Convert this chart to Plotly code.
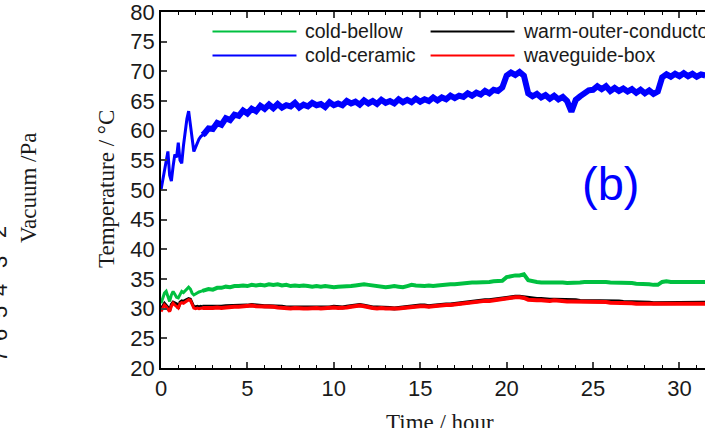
import numpy as np
import plotly.graph_objects as go

# ---- sample times (hours) ----
# fast sampling during warm-up, then every 15 minutes
t_early = [round(0.1 * i, 1) for i in range(25)]          # 0.0 .. 2.4
t_late = [2.5 + 0.25 * i for i in range(117)]               # 2.5 .. 31.5
time_h = t_early + t_late
n_early = len(t_early)

# ---- cold-ceramic (blue) ----
ceramic_early = [50.0, 51.5, 53.0, 55.0, 56.5, 52.5, 51.5, 54.0, 56.0, 55.5,
                 58.0, 55.0, 54.5, 57.5, 60.0, 62.0, 63.3, 61.0, 58.5, 56.5,
                 57.2, 58.0, 58.6, 59.0, 59.3]
ceramic_late = [
    59.5, 60.4, 60.3, 61.3, 61.0, 62.1, 61.8, 62.7,
    62.5, 63.4, 62.9, 63.7, 63.3, 64.2, 63.7, 64.4,
    63.8, 64.5, 63.9, 64.3, 64.1, 64.7, 63.9, 64.4,
    64.1, 64.7, 64.3, 64.5, 64.0, 64.8, 64.3, 64.6,
    64.3, 65.0, 64.6, 64.9, 64.4, 65.1, 64.6, 65.0,
    64.5, 65.2, 64.7, 65.0, 64.6, 65.3, 64.8, 65.2,
    64.8, 65.4, 64.9, 65.3, 65.0, 65.6, 65.1, 65.6,
    65.3, 65.9, 65.5, 65.9, 65.7, 66.3, 65.9, 66.4,
    66.1, 66.7, 66.3, 66.9, 66.7, 67.3, 69.3, 69.8,
    69.4, 69.9, 69.3, 66.3, 65.8, 66.2, 65.6, 66.0,
    65.4, 65.9, 65.3, 65.7, 65.0, 63.2, 65.2, 65.8,
    66.2, 66.8, 66.9, 67.5, 67.0, 67.5, 66.7, 67.2,
    66.7, 67.1, 66.6, 67.0, 66.4, 66.9, 66.3, 66.8,
    66.2, 66.6, 69.0, 69.5, 69.1, 69.6, 69.2, 69.7,
    69.2, 69.6, 69.1, 69.5, 69.3]

# ---- cold-bellow (green) ----
bellow_early = [30.9, 31.8, 32.6, 32.9, 32.0, 31.2, 32.3, 32.9, 32.4, 31.9,
                31.8, 32.5, 32.9, 32.7, 33.0, 33.3, 33.6, 33.3, 32.6, 32.3,
                32.5, 32.7, 32.8, 32.9, 33.0]
bellow_late = [
    33.1, 33.3, 33.2, 33.5, 33.5, 33.7, 33.6, 33.8,
    33.8, 33.9, 33.8, 34.0, 33.9, 34.0, 33.9, 34.1,
    34.0, 34.1, 33.9, 34.0, 33.8, 33.9, 33.8, 33.9,
    33.8, 33.7, 33.8, 33.7, 33.8, 33.7, 33.6, 33.7,
    33.7, 33.8, 33.8, 33.9, 34.0, 34.1, 34.0, 33.9,
    33.8, 33.7, 33.6, 33.7, 33.8, 33.7, 33.6, 33.8,
    34.0, 33.9, 33.8, 33.8, 33.9, 33.8, 33.9, 34.0,
    34.0, 34.1, 34.1, 34.2, 34.3, 34.3, 34.4, 34.4,
    34.4, 34.5, 34.5, 34.6, 34.6, 34.7, 35.3, 35.5,
    35.6, 35.6, 35.8, 34.8, 34.6, 34.5, 34.4, 34.4,
    34.4, 34.5, 34.4, 34.4, 34.3, 34.3, 34.4, 34.4,
    34.5, 34.5, 34.6, 34.6, 34.5, 34.5, 34.4, 34.4,
    34.4, 34.3, 34.3, 34.3, 34.2, 34.2, 34.2, 34.1,
    34.0, 34.0, 34.5, 34.6, 34.5, 34.5, 34.4, 34.5,
    34.4, 34.5, 34.4, 34.4, 34.5]

# ---- warm-outer-conductor (black) ----
outer_early = [30.1, 30.4, 30.9, 30.6, 30.2, 29.6, 30.7, 31.1, 31.0, 30.8,
               30.0, 31.1, 31.3, 31.2, 31.4, 31.6, 31.7, 31.6, 30.8, 30.3,
               30.3, 30.4, 30.3, 30.4, 30.3]
outer_late = [
    30.3, 30.2, 30.3, 30.3, 30.3, 30.4, 30.4, 30.4,
    30.4, 30.5, 30.5, 30.6, 30.5, 30.5, 30.4, 30.4,
    30.4, 30.3, 30.3, 30.2, 30.2, 30.2, 30.1, 30.1,
    30.1, 30.2, 30.2, 30.2, 30.2, 30.2, 30.3, 30.2,
    30.2, 30.3, 30.4, 30.5, 30.6, 30.5, 30.3, 30.2,
    30.2, 30.2, 30.1, 30.1, 30.0, 30.1, 30.2, 30.3,
    30.4, 30.4, 30.5, 30.5, 30.4, 30.5, 30.6, 30.7,
    30.7, 30.7, 30.8, 30.9, 31.0, 31.1, 31.2, 31.3,
    31.3, 31.4, 31.4, 31.5, 31.6, 31.7, 31.9, 32.0,
    32.0, 32.0, 31.9, 31.7, 31.6, 31.6, 31.6, 31.5,
    31.5, 31.5, 31.5, 31.5, 31.4, 31.4, 31.4, 31.3,
    31.3, 31.3, 31.3, 31.3, 31.3, 31.3, 31.2, 31.2,
    31.2, 31.1, 31.1, 31.1, 31.0, 31.0, 31.0, 31.0,
    30.9, 30.9, 30.9, 31.0, 31.0, 30.9, 30.9, 31.0,
    31.0, 30.9, 30.9, 31.0, 31.0]

# ---- waveguide-box (red) ----
wgbox_early = [29.5, 30.0, 30.6, 30.3, 29.8, 29.5, 30.4, 30.9, 30.6, 30.4,
               30.1, 30.8, 31.0, 30.9, 31.1, 31.4, 31.5, 31.4, 30.6, 30.1,
               30.0, 30.1, 30.0, 30.1, 30.1]
wgbox_late = [
    30.1, 30.0, 30.1, 30.2, 30.1, 30.2, 30.3, 30.3,
    30.3, 30.4, 30.4, 30.5, 30.4, 30.4, 30.3, 30.3,
    30.3, 30.2, 30.1, 30.1, 30.0, 30.1, 30.0, 30.0,
    30.0, 30.1, 30.1, 30.0, 30.1, 30.1, 30.2, 30.1,
    30.1, 30.2, 30.3, 30.4, 30.5, 30.4, 30.2, 30.1,
    30.0, 30.1, 30.0, 30.0, 29.9, 30.0, 30.1, 30.2,
    30.3, 30.3, 30.4, 30.4, 30.3, 30.4, 30.5, 30.6,
    30.6, 30.6, 30.7, 30.8, 30.9, 31.0, 31.1, 31.2,
    31.2, 31.3, 31.3, 31.4, 31.5, 31.6, 31.8, 31.9,
    31.9, 31.9, 31.8, 31.5, 31.4, 31.4, 31.4, 31.3,
    31.3, 31.4, 31.3, 31.3, 31.2, 31.2, 31.2, 31.1,
    31.1, 31.1, 31.1, 31.2, 31.1, 31.1, 31.0, 31.0,
    31.0, 30.9, 30.9, 30.9, 30.8, 30.8, 30.8, 30.8,
    30.7, 30.7, 30.7, 30.8, 30.8, 30.7, 30.7, 30.8,
    30.8, 30.7, 30.7, 30.8, 30.8]

GREEN, BLACK, BLUE, RED = "rgb(0,192,64)", "black", "rgb(0,0,255)", "rgb(255,0,0)"
# name -> values, colour, width during warm-up, width afterwards
series = {
    "cold-bellow": (bellow_early + bellow_late, GREEN, 3, 4),
    "warm-outer-conductor": (outer_early + outer_late, BLACK, 3, 4),
    "cold-ceramic": (ceramic_early + ceramic_late, BLUE, 3, 6),
    "waveguide-box": (wgbox_early + wgbox_late, RED, 3, 4),
}
draw_order = ["cold-ceramic", "cold-bellow", "warm-outer-conductor", "waveguide-box"]

y_ticks = list(range(20, 81, 5))
x_ticks = list(range(0, 31, 5))

W, H = 705, 428
L, R, T, B = 161, 0, 12, 60
x_max = 31.48

fig = go.Figure()
for name in draw_order:
    vals, col, lw0, lw1 = series[name]
    # warm-up part (thin trace) and steady part (noisier, thicker band)
    fig.add_trace(go.Scatter(x=time_h[:n_early + 1], y=vals[:n_early + 1],
                             mode="lines", line=dict(color=col, width=lw0),
                             showlegend=False, hoverinfo="skip"))
    fig.add_trace(go.Scatter(x=time_h[n_early - 1:], y=vals[n_early - 1:],
                             mode="lines", line=dict(color=col, width=lw1),
                             showlegend=False, hoverinfo="skip"))

axis_font = dict(family="Liberation Sans, Arial", size=22, color="#1a1a1a")
minor_ticks = dict(dtick=1, ticks="inside", ticklen=3, tickwidth=1.2,
                   tickcolor="black", showgrid=False)
fig.update_layout(
    width=W, height=H,
    margin=dict(l=L, r=R, t=T, b=B),
    paper_bgcolor="white", plot_bgcolor="white",
    xaxis=dict(range=[0, x_max], tickvals=x_ticks, ticks="inside", ticklen=6,
               tickwidth=1.5, showline=True, linecolor="black", linewidth=1.5,
               showgrid=False, zeroline=False, tickfont=axis_font,
               minor=minor_ticks),
    xaxis2=dict(range=[0, x_max], overlaying="x", side="top", tickvals=x_ticks,
                ticks="inside", ticklen=6, tickwidth=1.5, showline=True,
                linecolor="black", linewidth=1.5, showgrid=False, zeroline=False,
                showticklabels=False, minor=minor_ticks),
    yaxis=dict(range=[19.98, 80.02], tickvals=y_ticks, ticks="inside", ticklen=6,
               tickwidth=1.5, showline=True, linecolor="black", linewidth=1.5,
               showgrid=False, zeroline=False, tickfont=axis_font,
               ticklabeloverflow="allow"),
)
# empty trace so the top axis is laid out
fig.add_trace(go.Scatter(x=[], y=[], xaxis="x2", showlegend=False))

# legend drawn as line samples with labels
legend_items = [
    ("cold-bellow", 2.98, 7.84, 76.75),
    ("warm-outer-conductor", 15.6, 20.46, 76.75),
    ("cold-ceramic", 2.98, 7.84, 72.7),
    ("waveguide-box", 15.6, 20.46, 72.7),
]
leg_font = dict(family="Liberation Sans, Arial", size=19.5, color="#1a1a1a")
for name, x0, x1, yv in legend_items:
    col = series[name][1]
    fig.add_shape(type="line", x0=x0, x1=x1, y0=yv, y1=yv, xref="x", yref="y",
                  line=dict(color=col, width=2))
    fig.add_annotation(x=x1 + 0.4, y=yv, xref="x", yref="y", text=name,
                       showarrow=False, xanchor="left", yanchor="middle",
                       font=leg_font)

serif = "Liberation Serif, Times New Roman"


def px(xp):
    return (xp - L) / (W - L - R)


def py(yp):
    return (H - B - yp) / (H - T - B)


def label(x, y, text, font, angle=0, ya="middle"):
    fig.add_annotation(x=px(x), y=py(y), xref="paper", yref="paper", text=text,
                       textangle=angle, showarrow=False, xanchor="center",
                       yanchor=ya, font=font)


label(610, 183, "(b)", dict(family="Liberation Sans, Arial", size=47, color=BLUE))
label(106, 189, "Temperature / °C", dict(family=serif, size=23, color="#1a1a1a"), -90)
label(28, 188, "Vacuum /Pa", dict(family=serif, size=23, color="#1a1a1a"), -90)
label(440, 408, "Time / hour", dict(family=serif, size=23, color="#1a1a1a"), ya="top")

# tick labels of the neighbouring panel, cut by the page edge
for ch, yp in [("2", 232), ("3", 262), ("4", 290), ("5", 312), ("6", 335), ("7", 356)]:
    label(-1, yp, ch, dict(family="Liberation Sans, Arial", size=22, color="#1a1a1a"), -90)

fig.write_html("out.html")
